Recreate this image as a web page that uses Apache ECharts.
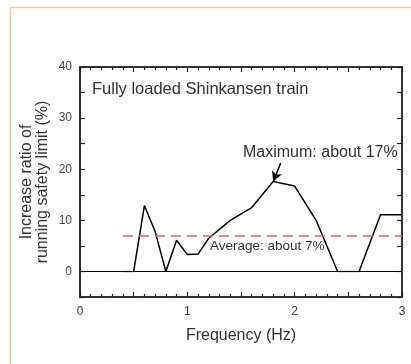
<!DOCTYPE html>
<html><head><meta charset="utf-8">
<script src="https://cdn.jsdelivr.net/npm/echarts@6/dist/echarts.min.js"></script>
<style>html,body{margin:0;padding:0;background:#fff}#c{width:411px;height:364px}</style>
</head><body><div id="c"></div>
<script>
// Data
const freq = [0.5, 0.6, 0.7, 0.8, 0.9, 1.0, 1.1, 1.2, 1.4, 1.6, 1.8, 2.0, 2.2, 2.4, null, 2.6, 2.8, 3.0];
const ratio = [0, 12.9, 7.8, 0, 6.1, 3.3, 3.4, 6.5, 10.0, 12.5, 17.6, 16.7, 10.0, 0, null, 0, 11.1, 11.1];
const zeroFreq = [0.4, 0.5, null, 2.4, 2.6];
const zeroVal = [0, 0, null, 0, 0];
const averageValue = 7;
const averageRange = [0.4, 3.0];
const maxArrowFrom = [1.87, 21.2];
const maxArrowTo = [1.80, 17.6];
const xTickLabels = ['0', '1', '2', '3'];
const yTickLabels = ['0', '10', '20', '30', '40'];
const titleText = 'Fully loaded Shinkansen train';
const maxText = 'Maximum: about 17%';
const avgText = 'Average: about 7%';
const xName = 'Frequency (Hz)';
const yName = 'Increase ratio of\nrunning safety limit (%)';

const toPairs = (xs, ys) => xs.map((x, i) => x === null ? '-' : [x, ys[i]]);

const FONT = '"Liberation Sans", Arial, sans-serif';
const axisLine = { show: true, onZero: false, lineStyle: { color: '#333', width: 2 } };
const chart = echarts.init(document.getElementById('c'), null, { renderer: 'canvas' });

const xCommon = {
  type: 'value', min: 0, max: 3, interval: 0.5,
  axisLine: axisLine,
  axisTick: { show: true, inside: true, length: 5, lineStyle: { color: '#222', width: 1.2 } },
  minorTick: { show: true, splitNumber: 5, length: 3, lineStyle: { color: '#222', width: 1.2 } },
  splitLine: { show: false }
};
const yCommon = {
  type: 'value', min: -5, max: 40, interval: 5,
  axisLine: axisLine,
  axisTick: { show: true, inside: true, length: 5, lineStyle: { color: '#222', width: 1.2 } },
  splitLine: { show: false }
};

chart.setOption({
  animation: false,
  backgroundColor: '#fff',
  grid: { left: 80, right: 9, top: 67, bottom: 67, containLabel: false },
  xAxis: [
    Object.assign({}, xCommon, {
      position: 'bottom',
      name: xName, nameLocation: 'middle', nameGap: 31, nameMoveOverlap: false,
      nameTextStyle: { fontFamily: FONT, fontSize: 16, color: '#333' },
      axisLabel: {
        fontFamily: FONT, fontSize: 12, color: '#444', margin: 9,
        formatter: v => { const s = String(Math.round(v)); return (Math.abs(v - Math.round(v)) < 1e-6 && xTickLabels.includes(s)) ? s : ''; }
      }
    }),
    Object.assign({}, xCommon, { position: 'top', axisLabel: { show: false } })
  ],
  yAxis: [
    Object.assign({}, yCommon, {
      position: 'left',
      name: yName, nameLocation: 'middle', nameGap: 29, nameRotate: 90, nameMoveOverlap: false,
      nameTextStyle: { fontFamily: FONT, fontSize: 16, color: '#333', lineHeight: 16 },
      axisLabel: {
        fontFamily: FONT, fontSize: 12, color: '#444', margin: 8,
        formatter: v => yTickLabels.includes(String(v)) ? String(v) : ''
      }
    }),
    Object.assign({}, yCommon, { position: 'right', axisLabel: { show: false } })
  ],
  graphic: [
    { type: 'rect', silent: true, z: -10, shape: { x: 10.5, y: 7.5, width: 420, height: 400 },
      style: { fill: 'none', stroke: '#fdc3ae', lineWidth: 1.5 } },
    { type: 'text', x: 92, y: 89, style: { text: titleText, font: '16.5px ' + FONT, fill: '#333', textVerticalAlign: 'middle' } },
    { type: 'text', x: 243, y: 153, style: { text: maxText, font: '16px ' + FONT, fill: '#333', textVerticalAlign: 'middle' } },
    { type: 'text', x: 210, y: 246, style: { text: avgText, font: '13.5px ' + FONT, fill: '#333', textVerticalAlign: 'middle' } }
  ],
  series: [
    {
      type: 'line', data: toPairs(zeroFreq, zeroVal), symbol: 'none', z: 1,
      lineStyle: { color: '#c8c8c8', width: 2 }, silent: true
    },
    {
      type: 'line', data: toPairs(freq, ratio), symbol: 'none', z: 3, connectNulls: false,
      lineStyle: { color: '#000', width: 1.5 }, silent: true,
      markLine: {
        silent: true, animation: false, label: { show: false },
        data: [
          [{ coord: [0, 0], symbol: 'none', lineStyle: { color: '#000', width: 1, type: 'solid' } },
           { coord: [3, 0], symbol: 'none' }],
          [{ coord: [averageRange[0], averageValue], symbol: 'none', lineStyle: { color: '#e86262', width: 1.5, type: [10, 6] } },
           { coord: [averageRange[1], averageValue], symbol: 'none' }],
          [{ coord: maxArrowFrom, symbol: 'none', lineStyle: { color: '#000', width: 1.5, type: 'solid' } },
           { coord: maxArrowTo, symbol: 'arrow', symbolSize: [8, 10] }]
        ]
      }
    }
  ]
});
</script></body></html>
